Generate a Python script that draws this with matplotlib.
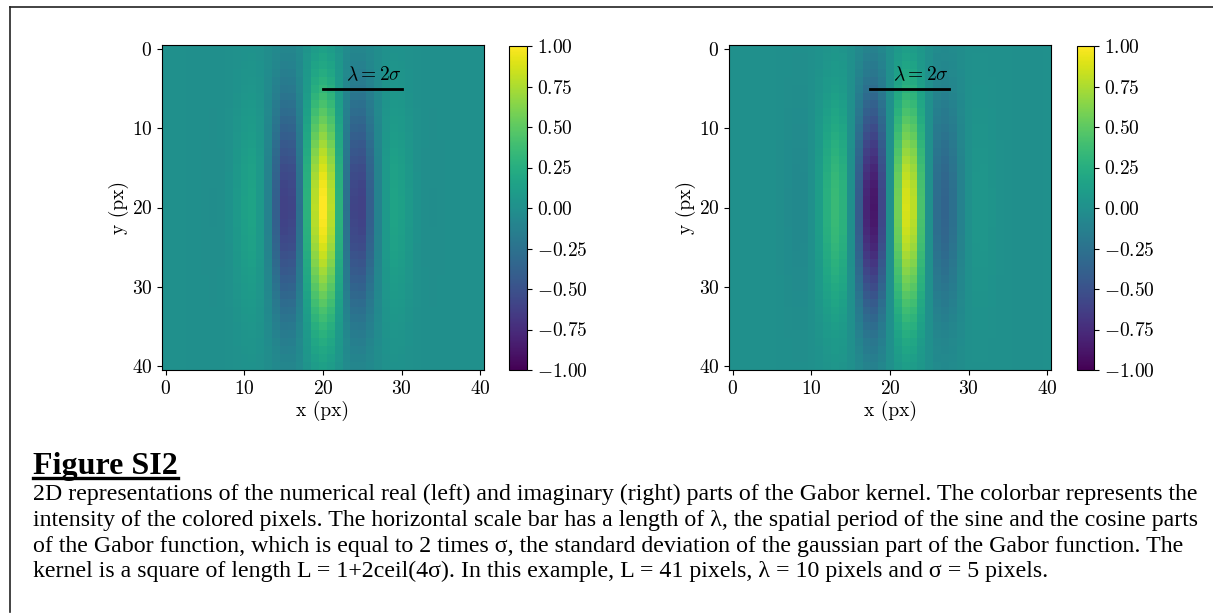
import numpy as np
import matplotlib
matplotlib.use("Agg")
import matplotlib.pyplot as plt
from matplotlib.lines import Line2D
from matplotlib.ticker import FuncFormatter

plt.rcParams["font.family"] = "serif"
plt.rcParams["font.serif"] = ["cmr10"]
plt.rcParams["mathtext.fontset"] = "cm"
plt.rcParams["axes.formatter.use_mathtext"] = True

# Gabor kernel parameters (pixels)
kernel_size = 41
wavelength = 10.0
sigma_x = 5.0
sigma_y = 10.0
bar_start = [20.0, 17.5]      # left end of the lambda scale bar, real / imaginary
bar_y = 5.0
ticks_xy = [0, 10, 20, 30, 40]
cbar_ticks = [-1.0, -0.75, -0.5, -0.25, 0.0, 0.25, 0.5, 0.75, 1.0]

caption_title = "Figure SI2"
caption_lines = [
    "2D representations of the numerical real (left) and imaginary (right) parts of the Gabor kernel. The colorbar represents the",
    "intensity of the colored pixels. The horizontal scale bar has a length of \u03bb, the spatial period of the sine and the cosine parts",
    "of the Gabor function, which is equal to 2 times \u03c3, the standard deviation of the gaussian part of the Gabor function. The",
    "kernel is a square of length L = 1+2ceil(4\u03c3). In this example, L = 41 pixels, \u03bb = 10 pixels and \u03c3 = 5 pixels.",
]

# build the kernel
c = kernel_size // 2
xx, yy = np.meshgrid(np.arange(kernel_size) - c, np.arange(kernel_size) - c)
envelope = np.exp(-xx**2 / (2 * sigma_x**2) - yy**2 / (2 * sigma_y**2))
phase = 2 * np.pi * xx / wavelength
parts = [envelope * np.cos(phase), envelope * np.sin(phase)]

W, H = 1213, 615
fig = plt.figure(figsize=(W / 100, H / 100), dpi=100)


def px_box(x0, y0, x1, y1):
    return [x0 / W, 1 - y1 / H, (x1 - x0) / W, (y1 - y0) / H]


panel_boxes = [(162, 45, 484, 370), (729, 45, 1051, 370)]
cbar_boxes = [(509, 46, 527, 370), (1077, 46, 1094, 370)]

for k in range(2):
    ax = fig.add_axes(px_box(*panel_boxes[k]))
    im = ax.imshow(parts[k], cmap="viridis", vmin=-1, vmax=1,
                   interpolation="nearest", aspect="auto")
    ax.set_xticks(ticks_xy)
    ax.set_yticks(ticks_xy)
    ax.tick_params(labelsize=14)
    ax.set_xlabel("x (px)", fontsize=14, labelpad=2)
    ax.set_ylabel("y (px)", fontsize=14, labelpad=2)
    ax.plot([bar_start[k], bar_start[k] + wavelength], [bar_y, bar_y],
            color="black", lw=2)
    ax.text(bar_start[k] + wavelength, bar_y - 0.6, r"$\lambda = 2\sigma$",
            ha="right", va="bottom", fontsize=14)

    cax = fig.add_axes(px_box(*cbar_boxes[k]))
    cb = fig.colorbar(im, cax=cax, ticks=cbar_ticks)
    cb.ax.yaxis.set_major_formatter(FuncFormatter(lambda v, p: f"${v:.2f}$"))
    cb.ax.tick_params(labelsize=14)
    cb.outline.set_linewidth(0.8)

# page frame
fig.add_artist(Line2D([10 / W, 10 / W], [1 - 7 / H, 1 - 612 / H],
                      color="#222222", lw=1.2))
fig.add_artist(Line2D([10 / W, 1.0], [1 - 7 / H, 1 - 7 / H],
                      color="#222222", lw=1.2))

# caption
title = fig.text(33 / W, 1 - 474 / H, caption_title, family="Liberation Serif",
                 fontsize=23, fontweight="bold", va="baseline")
fig.canvas.draw()
bb = title.get_window_extent()
uy = 1 - 478 / H
fig.add_artist(Line2D([bb.x0 / W, bb.x1 / W], [uy, uy],
                      color="black", lw=2.4))

for i, line in enumerate(caption_lines):
    fig.text(33 / W, 1 - (500 + 25.8 * i) / H, line, family="Liberation Serif",
             fontsize=17.2, va="baseline")

fig.savefig("out.png", dpi=100)
